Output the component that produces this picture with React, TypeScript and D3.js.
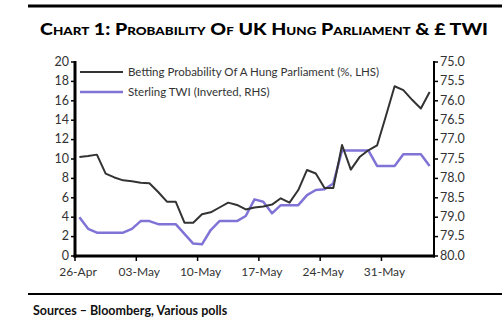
import React from "react";
import * as d3 from "d3";

const startDate = "2017-04-26";
const betting = [10.2, 10.3, 10.45, 8.5, 8.1, 7.8, 7.7, 7.55, 7.5, 6.6, 5.6, 5.6, 3.43, 3.43, 4.3, 4.5, 5.0, 5.5, 5.26, 4.8, 5.0, 5.1, 5.3, 5.95, 5.5, 6.8, 8.87, 8.5, 7.0, 7.0, 11.44, 8.9, 10.2, 10.9, 11.4, 14.4, 17.5, 17.1, 16.1, 15.2, 16.9];
const twi = [79.0, 79.3, 79.4, 79.4, 79.4, 79.4, 79.3, 79.1, 79.1, 79.18, 79.18, 79.18, 79.43, 79.68, 79.7, 79.33, 79.1, 79.1, 79.1, 78.97, 78.54, 78.6, 78.9, 78.69, 78.69, 78.69, 78.43, 78.3, 78.28, 78.13, 77.28, 77.28, 77.28, 77.28, 77.68, 77.68, 77.68, 77.38, 77.38, 77.38, 77.68];
const leftTicks = [0, 2, 4, 6, 8, 10, 12, 14, 16, 18, 20];
const rightTicks = [75.0, 75.5, 76.0, 76.5, 77.0, 77.5, 78.0, 78.5, 79.0, 79.5, 80.0];
const xTickDates = ["2017-04-26", "2017-05-03", "2017-05-10", "2017-05-17", "2017-05-24", "2017-05-31"];
const seriesNames = ["Betting Probability Of A Hung Parliament (%, LHS)", "Sterling TWI (Inverted, RHS)"];

const parse = d3.utcParse("%Y-%m-%d");
const fmtX = d3.utcFormat("%d-%b");

export default function App() {
  const W = 504, H = 322;
  const left = 75, right = 434, top = 62, bottom = 256;
  const d0 = parse(startDate)!;
  const d1 = d3.utcDay.offset(d0, betting.length);
  const x = d3.scaleUtc().domain([d0, d1]).range([left, right]);
  const yL = d3.scaleLinear().domain([0, 20]).range([bottom, top]);
  const yR = d3.scaleLinear().domain([75, 80]).range([top, bottom]);
  const px = (i: number) => x(d3.utcHour.offset(d3.utcDay.offset(d0, i), 12));
  const lineL = d3.line<number>().x((_, i) => px(i)).y((v) => yL(v));
  const lineR = d3.line<number>().x((_, i) => px(i)).y((v) => yR(v));
  const font = "Lato, 'Open Sans', sans-serif";
  const tc = "#333";
  const blue = "#7f74d6";

  return (
    <svg width={W} height={H} style={{ position: "absolute", left: 0, top: 0, background: "#fff" }} fontFamily={font}>
      <rect x={0} y={0} width={W} height={H} fill="#fff" />
      <line x1={28} x2={502} y1={6} y2={6} stroke="#000" strokeWidth={3} />
      <text x={40} y={35} fontSize={17.5} fontWeight={900} fill="#000" style={{ fontVariant: "small-caps" }} textLength={448} lengthAdjust="spacingAndGlyphs">
        Chart 1: Probability Of UK Hung Parliament &amp; £ TWI
      </text>
      {/* series */}
      <path d={lineR(twi)!} fill="none" stroke={blue} strokeWidth={2.5} strokeLinejoin="round" />
      <path d={lineL(betting)!} fill="none" stroke="#333" strokeWidth={2} strokeLinejoin="round" />
      {/* left axis */}
      <line x1={left} x2={left} y1={top - 1} y2={bottom + 1.5} stroke="#000" strokeWidth={3} />
      {leftTicks.map((t) => (
        <g key={"l" + t}>
          <line x1={left - 4} x2={left} y1={yL(t)} y2={yL(t)} stroke="#000" strokeWidth={1.5} />
          <text x={left - 6} y={yL(t)} dy="0.3em" textAnchor="end" fontSize={12.5} fill={tc}>{t}</text>
        </g>
      ))}
      {/* right axis */}
      <line x1={right} x2={right} y1={top - 1} y2={bottom + 1.5} stroke="#000" strokeWidth={2} />
      {rightTicks.map((t) => (
        <g key={"r" + t}>
          <line x1={right} x2={right + 4} y1={yR(t)} y2={yR(t)} stroke="#000" strokeWidth={1.5} />
          <text x={right + 6} y={yR(t)} dy="0.3em" textAnchor="start" fontSize={12.5} fill={tc}>{t.toFixed(1)}</text>
        </g>
      ))}
      {/* x axis */}
      <line x1={left - 1.5} x2={right + 1} y1={bottom} y2={bottom} stroke="#000" strokeWidth={3} />
      {xTickDates.map((s) => {
        const d = parse(s)!;
        return (
          <g key={s}>
            <line x1={x(d)} x2={x(d)} y1={bottom} y2={bottom + 5} stroke="#000" strokeWidth={1.5} />
            <text x={x(d) + 3} y={bottom + 20} textAnchor="middle" fontSize={12} fill={tc}>{fmtX(d)}</text>
          </g>
        );
      })}
      {/* legend */}
      <line x1={80} x2={123} y1={72} y2={72} stroke="#333" strokeWidth={2} />
      <text x={128} y={72} dy="0.35em" fontSize={11.5} fill={tc}>{seriesNames[0]}</text>
      <line x1={80} x2={123} y1={92} y2={92} stroke={blue} strokeWidth={2.5} />
      <text x={128} y={92} dy="0.35em" fontSize={11.5} fill={tc}>{seriesNames[1]}</text>
      <line x1={28} x2={502} y1={294} y2={294} stroke="#000" strokeWidth={2} />
      <text x={33} y={315} fontSize={12.5} fontWeight={700} fill="#111">Sources – Bloomberg, Various polls</text>
    </svg>
  );
}
